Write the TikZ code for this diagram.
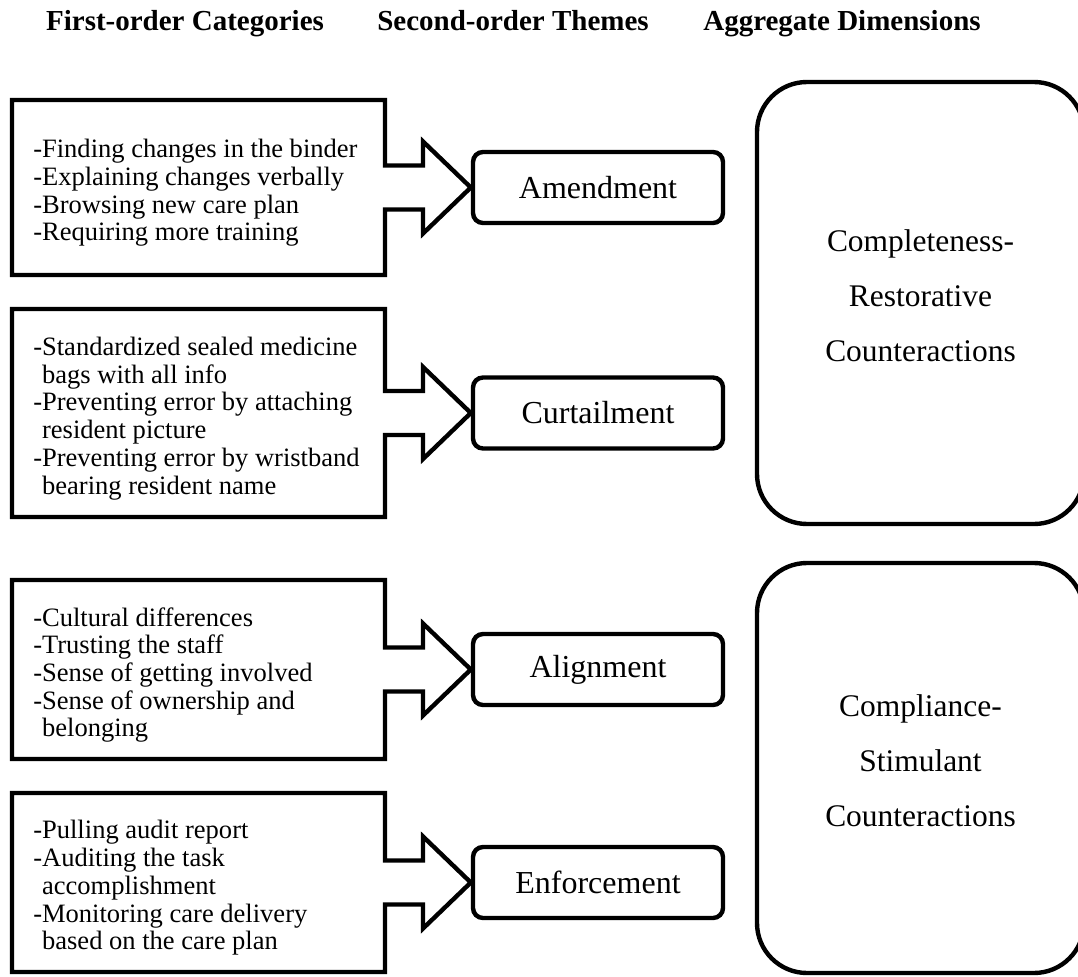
\documentclass[tikz,border=0pt]{standalone}
\usepackage{fontspec}
\setmainfont{Liberation Serif}
\usetikzlibrary{calc}

% Outline of a category box merged with its block arrow pointing at a theme box
\newcommand\callout[2]{%
  \draw[outline] (#1.north west) -- (#1.north east)
    -- ($(#1.east)+(0,-22)$) -- ($(#1.east)+(38,-22)$)
    -- ($(#1.east)+(38,-46)$) -- (#2.west)
    -- ($(#1.east)+(38,46)$) -- ($(#1.east)+(38,22)$)
    -- ($(#1.east)+(0,22)$) -- (#1.south east)
    -- (#1.south west) -- cycle;}

\begin{document}
\begin{tikzpicture}[x=0.75pt,y=-0.75pt,
  outline/.style={line width=3.3pt, line join=miter},
  catbox/.style={draw=none, outer sep=0pt, inner sep=0pt, minimum width=279.75pt},
  cattext/.style={anchor=west, inner sep=0pt, align=left,
    font=\fontsize{19.9pt}{20.8pt}\selectfont},
  theme/.style={draw, line width=3.3pt, rounded corners=7.5pt,
    minimum width=187.5pt, minimum height=53.25pt,
    font=\fontsize{24pt}{28pt}\selectfont},
  dimbox/.style={draw, line width=3.3pt, rounded corners=37.5pt,
    minimum width=245.25pt},
  dimtext/.style={align=center, font=\fontsize{23.6pt}{41.25pt}\selectfont},
  header/.style={anchor=base, font=\fontsize{21.75pt}{26pt}\selectfont\bfseries}
]
\useasboundingbox (0,0) rectangle (1078,977);

% column headings
\node[header] (h1) at (185,31) {First-order Categories};
\node[header] (h2) at (513,31) {Second-order Themes};
\node[header] (h3) at (842,31) {Aggregate Dimensions};

% first-order category boxes
\node[catbox, minimum height=131.25pt] (c1) at (198.5,187.5) {};
\node[catbox, minimum height=156pt]    (c2) at (198.5,413) {};
\node[catbox, minimum height=134.25pt] (c3) at (198.5,669.5) {};
\node[catbox, minimum height=134.25pt] (c4) at (198.5,882.5) {};

% first-order category texts
\node[cattext] (c1t) at ($(c1.west)+(21,5.5)$)
  {-Finding changes in the binder\\
   -Explaining changes verbally\\
   -Browsing new care plan\\
   -Requiring more training};
\node[cattext] (c2t) at ($(c2.west)+(21,5.5)$)
  {-Standardized sealed medicine\\
   \phantom{-}bags with all info\\
   -Preventing error by attaching\\
   \phantom{-}resident picture\\
   -Preventing error by wristband\\
   \phantom{-}bearing resident name};
\node[cattext] (c3t) at ($(c3.west)+(21,5.5)$)
  {-Cultural differences\\
   -Trusting the staff\\
   -Sense of getting involved\\
   -Sense of ownership and\\
   \phantom{-}belonging};
\node[cattext] (c4t) at ($(c4.west)+(21,5.5)$)
  {-Pulling audit report\\
   -Auditing the task\\
   \phantom{-}accomplishment\\
   -Monitoring care delivery\\
   \phantom{-}based on the care plan};

% second-order themes
\node[theme] (t1) at (598,187.5) {Amendment};
\node[theme] (t2) at (598,413) {Curtailment};
\node[theme] (t3) at (598,669.5) {Alignment};
\node[theme] (t4) at (598,882.5) {Enforcement};

% category boxes with their arrows
\callout{c1}{t1}
\callout{c2}{t2}
\callout{c3}{t3}
\callout{c4}{t4}

% aggregate dimensions
\node[dimbox, minimum height=331.5pt] (d1) at (920.5,303) {};
\node[dimbox, minimum height=307.5pt] (d2) at (920.5,768) {};
\node[dimtext] (d1t) at ($(d1.center)+(0,-7.5)$)
  {Completeness-\\Restorative\\Counteractions};
\node[dimtext] (d2t) at ($(d2.center)+(0,-7)$)
  {Compliance-\\Stimulant\\Counteractions};
\end{tikzpicture}
\end{document}
